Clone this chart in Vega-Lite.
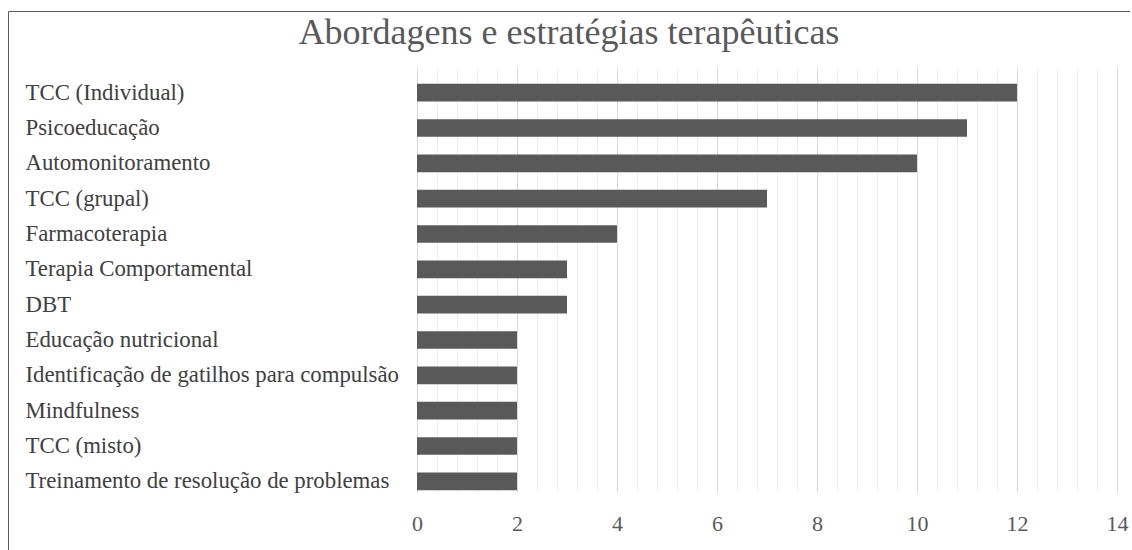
{
  "$schema": "https://vega.github.io/schema/vega-lite/v6.json",
  "autosize": {"type": "none"},
  "padding": {"left": 8, "top": 11, "right": 0, "bottom": 0},
  "width": 1122,
  "height": 545,
  "background": "white",
  "title": {
    "text": "Abordagens e estratégias terapêuticas",
    "anchor": "middle",
    "frame": "group",
    "offset": -41,
    "font": "Liberation Serif",
    "fontSize": 36,
    "fontWeight": "normal",
    "color": "#595959"
  },
  "data": {
    "values": [
      {"estrategia": "TCC (Individual)", "n": 12},
      {"estrategia": "Psicoeducação", "n": 11},
      {"estrategia": "Automonitoramento", "n": 10},
      {"estrategia": "TCC (grupal)", "n": 7},
      {"estrategia": "Farmacoterapia", "n": 4},
      {"estrategia": "Terapia Comportamental", "n": 3},
      {"estrategia": "DBT", "n": 3},
      {"estrategia": "Educação nutricional", "n": 2},
      {"estrategia": "Identificação de gatilhos para compulsão", "n": 2},
      {"estrategia": "Mindfulness", "n": 2},
      {"estrategia": "TCC (misto)", "n": 2},
      {"estrategia": "Treinamento de resolução de problemas", "n": 2}
    ]
  },
  "mark": {"type": "bar", "color": "#595959"},
  "encoding": {
    "y": {
      "field": "estrategia",
      "type": "nominal",
      "sort": null,
      "scale": {"range": [64, 488], "paddingInner": 0.5, "paddingOuter": 0.25},
      "axis": {
        "title": null,
        "domain": false,
        "ticks": false,
        "grid": false,
        "labelAlign": "left",
        "labelPadding": -17,
        "labelFont": "Liberation Serif",
        "labelFontSize": 22.8,
        "labelColor": "#404040",
        "labelLimit": 0
      }
    },
    "x": {
      "field": "n",
      "type": "quantitative",
      "scale": {"domain": [0, 14], "range": [409, 1109], "nice": false, "zero": true},
      "axis": {
        "title": null,
        "domain": false,
        "ticks": false,
        "offset": -57,
        "labelPadding": 14,
        "labelFlush": false,
        "labelOverlap": false,
        "values": [0, 0.4, 0.8, 1.2, 1.6, 2, 2.4, 2.8, 3.2, 3.6, 4, 4.4, 4.8, 5.2, 5.6, 6, 6.4, 6.8, 7.2, 7.6, 8, 8.4, 8.8, 9.2, 9.6, 10, 10.4, 10.8, 11.2, 11.6, 12, 12.4, 12.8, 13.2, 13.6, 14],
        "labelExpr": "datum.value % 2 === 0 ? format(datum.value, 'd') : ''",
        "labelFont": "Liberation Serif",
        "labelFontSize": 22,
        "labelColor": "#595959",
        "grid": true,
        "gridColor": {"condition": {"test": "datum.value % 2 === 0", "value": "#d9d9d9"}, "value": "#eeeeee"},
        "gridWidth": 1
      }
    }
  },
  "config": {
    "view": {"stroke": "#595959", "strokeWidth": 1}
  }
}
